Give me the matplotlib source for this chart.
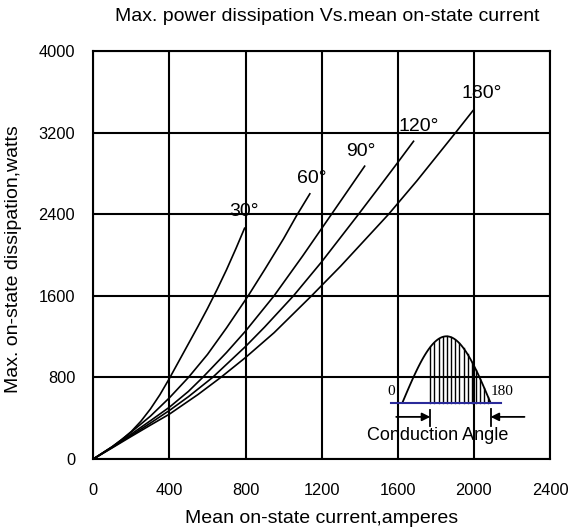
import numpy as np
import matplotlib.pyplot as plt

plt.rcParams["font.family"] = ["Liberation Sans", "DejaVu Sans"]

# mean on-state current (A) and max. power dissipation (W)
current_30 = [0, 100, 150, 200, 250, 300, 350, 400, 450, 500, 550, 600, 650, 700, 750, 795]
power_30 = [0, 122, 190, 270, 370, 490, 630, 790, 960, 1130, 1300, 1475, 1660, 1855, 2065, 2263]

current_60 = [0, 100, 200, 300, 400, 500, 600, 700, 814, 900, 1000, 1068, 1138]
power_60 = [0, 120, 265, 420, 600, 800, 1025, 1285, 1600, 1855, 2160, 2385, 2600]

current_90 = [0, 100, 200, 300, 400, 500, 575, 700, 800, 950, 1100, 1252, 1350, 1426]
power_90 = [0, 118, 245, 375, 508, 663, 800, 1044, 1254, 1600, 1990, 2400, 2665, 2871]

current_120 = [0, 100, 200, 300, 400, 500, 627, 800, 900, 1052, 1200, 1394, 1500, 1600, 1683]
power_120 = [0, 114, 232, 352, 476, 611, 800, 1103, 1293, 1600, 1933, 2400, 2660, 2907, 3115]

current_180 = [0, 100, 200, 300, 400, 550, 670, 800, 950, 1147, 1300, 1552, 1700, 1904, 1995]
power_180 = [0, 110, 222, 332, 440, 632, 800, 995, 1238, 1600, 1891, 2400, 2726, 3200, 3415]

angle_labels = ["30°", "60°", "90°", "120°", "180°"]
label_x = [790, 1148, 1405, 1709, 2040]
label_y = [2424, 2747, 3012, 3257, 3580]

x_ticks = [0, 400, 800, 1200, 1600, 2000, 2400]
y_ticks = [0, 800, 1600, 2400, 3200, 4000]

# conduction angle sketch (in chart units)
sketch_base = 550
sketch_line = [1566, 2144]
wave_start, wave_end = 1624, 2088
wave_height = 653
hatch_deg = [57, 65, 74, 82, 91, 99, 108, 116, 125, 133, 142, 150, 159, 167, 175]
conduction_deg = 57


def deg_to_x(deg):
    return wave_start + np.asarray(deg) / 180.0 * (wave_end - wave_start)


fig = plt.figure(figsize=(5.72, 5.32), dpi=100)
ax = fig.add_axes([0.1631, 0.1372, 0.7984, 0.7669])

ax.set_xlim(0, 2400)
ax.set_ylim(0, 4000)
ax.set_xticks(x_ticks)
ax.set_yticks(y_ticks)
ax.tick_params(axis="x", length=0, pad=17, labelsize=11.8)
ax.tick_params(axis="y", length=0, pad=13, labelsize=11.8)
ax.grid(True, color="black", linewidth=1.5)
ax.set_axisbelow(True)
for spine in ax.spines.values():
    spine.set_linewidth(1.5)

curves = [
    (current_30, power_30),
    (current_60, power_60),
    (current_90, power_90),
    (current_120, power_120),
    (current_180, power_180),
]
for cur, pw in curves:
    ax.plot(cur, pw, color="black", linewidth=1.2, solid_joinstyle="round", zorder=3)

for text, lx, ly in zip(angle_labels, label_x, label_y):
    ax.text(lx, ly, text, fontsize=14, ha="center", va="center", zorder=4)

# half-sine sketch with hatched conduction part
deg = np.linspace(0, 180, 91)
ax.plot(deg_to_x(deg), sketch_base + wave_height * np.sin(np.radians(deg)),
        color="black", linewidth=1.3, zorder=3)
for d in hatch_deg:
    top = sketch_base + wave_height * np.sin(np.radians(d))
    ax.plot([deg_to_x(d)] * 2, [sketch_base, top], color="black", linewidth=1.0, zorder=3)
ax.plot(sketch_line, [sketch_base] * 2, color="#2a2a9a", linewidth=1.5, zorder=4)

ax.text(1564, 661, "0", fontsize=11, family="Liberation Serif", ha="center", va="center")
ax.text(2151, 661, "180", fontsize=11, family="Liberation Serif", ha="center", va="center")

x_left = deg_to_x(conduction_deg)
x_right = deg_to_x(180)
ax.plot([x_left, x_left], [321, 485], color="black", linewidth=1.3, zorder=3)
ax.plot([x_right, x_right], [321, 495], color="black", linewidth=1.3, zorder=3)
ax.annotate("", xy=(x_left, 413), xytext=(1592, 413),
            arrowprops=dict(arrowstyle="-|>", color="black", lw=1.3,
                            mutation_scale=12, shrinkA=0, shrinkB=0))
ax.annotate("", xy=(x_right, 413), xytext=(2266, 413),
            arrowprops=dict(arrowstyle="-|>", color="black", lw=1.3,
                            mutation_scale=12, shrinkA=0, shrinkB=0))
ax.text(1812, 235, "Conduction Angle", fontsize=13, ha="center", va="center", zorder=4)

ax.set_xlabel("Mean on-state current,amperes", fontsize=14)
ax.set_ylabel("Max. on-state dissipation,watts", fontsize=14)
ax.xaxis.label.set_va("center")
ax.yaxis.label.set_va("center")
ax.xaxis.set_label_coords(0.5, -0.145)
ax.yaxis.set_label_coords(-0.174, 0.49)

fig.text(327 / 572, 1 - 16.5 / 532, "Max. power dissipation Vs.mean on-state current",
         fontsize=14, ha="center", va="center")

fig.savefig("out.png", dpi=100)
